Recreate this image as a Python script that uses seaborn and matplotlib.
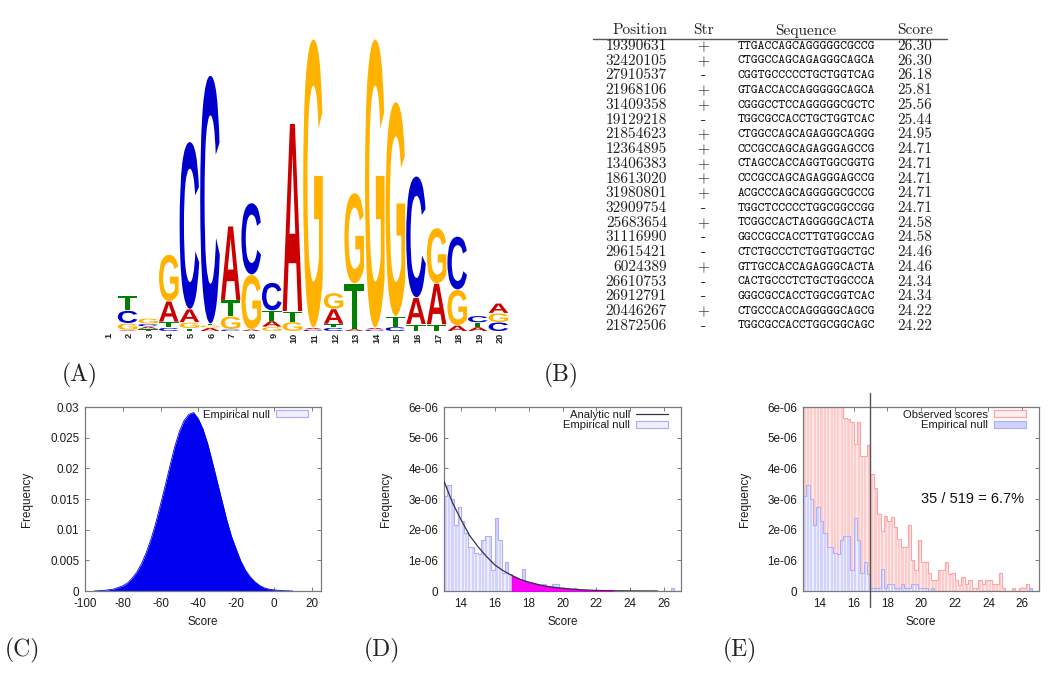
"""Sequence logo, top motif sites and score histograms, laid out as one figure."""

import matplotlib
matplotlib.use("Agg")
import matplotlib.pyplot as plt
from matplotlib.font_manager import FontProperties
from matplotlib.lines import Line2D
from matplotlib.patches import PathPatch, Patch
from matplotlib.text import TextPath
from matplotlib.transforms import Affine2D, ScaledTranslation
import numpy as np
import seaborn as sns

# panel A: letters bottom to top at each motif position, heights in bits
logo_letters = ["", "AGCT", "TACG", "CTAG", "TGAC", "AGTC", "CGTA", "AGC", "GATC", "GTA",
                "CAG", "CTAG", "ATG", "CAG", "CTG", "TAC", "TAG", "AGC", "ATC", "CGA"]
logo_heights = [
    [], [0.009, 0.046, 0.087, 0.103], [0.016, 0.016, 0.020, 0.037], [0.025, 0.039, 0.142, 0.320],
    [0.020, 0.041, 0.091, 1.146], [0.025, 0.016, 0.011, 1.700], [0.014, 0.089, 0.110, 0.507],
    [0.014, 0.374, 0.491], [0.030, 0.041, 0.071, 0.192], [0.064, 0.073, 1.285],
    [0.012, 0.013, 1.975], [0.025, 0.025, 0.103, 0.110], [0.016, 0.311, 0.621],
    [0.012, 0.013, 1.975], [0.030, 0.073, 1.468], [0.048, 0.183, 0.831],
    [0.046, 0.281, 0.381], [0.041, 0.244, 0.365], [0.030, 0.030, 0.046], [0.062, 0.062, 0.068],
]
logo_colors = {"A": "#cc0000", "C": "#0000cc", "G": "#ffb300", "T": "#008000"}

# panel B
table_positions = ["19390631", "32420105", "27910537", "21968106", "31409358", "19129218", "21854623",
                   "12364895", "13406383", "18613020", "31980801", "32909754", "25683654", "31116990",
                   "29615421", "6024389", "26610753", "26912791", "20446267", "21872506"]
table_strands = ["+", "+", "-", "+", "+", "-", "+", "+", "+", "+", "+", "-", "+", "-", "-", "+", "-", "-", "+", "-"]
table_sequences = ["TTGACCAGCAGGGGGCGCCG", "CTGGCCAGCAGAGGGCAGCA", "CGGTGCCCCCTGCTGGTCAG", "GTGACCACCAGGGGGCAGCA",
                   "CGGGCCTCCAGGGGGCGCTC", "TGGCGCCACCTGCTGGTCAC", "CTGGCCAGCAGAGGGCAGGG", "CCCGCCAGCAGAGGGAGCCG",
                   "CTAGCCACCAGGTGGCGGTG", "CCCGCCAGCAGAGGGAGCCG", "ACGCCCAGCAGGGGGCGCCG", "TGGCTCCCCCTGGCGGCCGG",
                   "TCGGCCACTAGGGGGCACTA", "GGCCGCCACCTTGTGGCCAG", "CTCTGCCCTCTGGTGGCTGC", "GTTGCCACCAGAGGGCACTA",
                   "CACTGCCCTCTGCTGGCCCA", "GGGCGCCACCTGGCGGTCAC", "CTGCCCACCAGGGGGCAGCG", "TGGCGCCACCTGGCGGCAGC"]
table_scores = ["26.30", "26.30", "26.18", "25.81", "25.56", "25.44", "24.95", "24.71", "24.71", "24.71",
                "24.71", "24.71", "24.58", "24.58", "24.46", "24.46", "24.34", "24.34", "24.22", "24.22"]

# panel C: whole empirical null
null_scores = [-95, -90, -85, -80, -77.5, -75, -72.5, -70, -67.5, -65, -62.5, -60, -57.5, -55, -52.5, -50,
               -47.5, -45, -42.5, -40, -37.5, -35, -32.5, -30, -27.5, -25, -22.5, -20, -17.5, -15, -12.5,
               -10, -7.5, -5, -2.5, 0, 5, 10]
null_freq = [0, 0.00009, 0.0003, 0.00084, 0.0013, 0.0021, 0.0031, 0.0045, 0.0063, 0.0085, 0.0111, 0.0141,
             0.0172, 0.0204, 0.0235, 0.0260, 0.0278, 0.0288, 0.0291, 0.0281, 0.0264, 0.0240, 0.0210, 0.0179,
             0.0148, 0.0117, 0.0090, 0.0069, 0.0049, 0.0034, 0.0023, 0.0015, 0.0009, 0.0005, 0.0003, 0.00018,
             0.00005, 0]

# panels D and E: tail of the score histograms, units of 1e-6, bins from 13 to 27
empirical_tail = [3.10, 3.45, 3.00, 2.15, 2.75, 2.27, 1.90, 1.42, 1.42, 1.25, 1.20, 1.65, 1.78, 1.78,
                  0.70, 2.38, 1.66, 0.60, 0.95, 0.55, 0.11, 0.11, 0.11, 0.72, 0.11, 0.22, 0.22, 0.11,
                  0.11, 0.22, 0.11, 0.11, 0.22, 0.22, 0.11, 0.11, 0.11, 0.00, 0.11, 0.00, 0.00, 0.00,
                  0.00, 0.00, 0.00, 0.00, 0.00, 0.00, 0.00, 0.00, 0.00, 0.00, 0.00, 0.00, 0.00, 0.00,
                  0.00, 0.00, 0.00, 0.00, 0.00, 0.00, 0.00, 0.00, 0.00, 0.00, 0.00, 0.11, 0.00, 0.00]
observed_tail = [7.50, 7.50, 7.50, 7.50, 7.50, 7.50, 7.50, 7.50, 7.50, 7.00, 6.80, 6.50, 5.65, 5.60,
                 5.50, 4.80, 5.50, 4.40, 4.40, 4.75, 3.83, 3.35, 2.50, 1.95, 2.45, 2.27, 2.40, 2.10,
                 1.70, 1.42, 1.42, 2.15, 1.00, 0.70, 1.65, 0.95, 0.95, 0.60, 0.35, 0.35, 0.70, 0.70,
                 0.95, 0.55, 0.60, 0.35, 0.20, 0.47, 0.22, 0.35, 0.11, 0.11, 0.35, 0.22, 0.35, 0.35,
                 0.22, 0.22, 0.58, 0.11, 0.00, 0.00, 0.11, 0.00, 0.11, 0.11, 0.22, 0.11, 0.00, 0.00]
analytic_scores = [13, 13.5, 14, 14.5, 15, 15.5, 16, 16.5, 17, 17.5, 18, 18.5, 19, 19.5, 20, 20.5, 21,
                   21.5, 22, 22.5, 23, 24, 25, 25.6]
analytic_freq = [3.58, 2.88, 2.33, 1.82, 1.45, 1.13, 0.85, 0.66, 0.51, 0.38, 0.29, 0.22, 0.16, 0.12, 0.09,
                 0.065, 0.045, 0.03, 0.02, 0.012, 0.008, 0.003, 0.001, 0.0005]
significance_cut = 17

tail_edges = list(np.linspace(13, 27, 71))
tail_centres = (np.array(tail_edges[:-1]) + np.array(tail_edges[1:])) / 2

BLUE_BASE, BLUE_FILL, BLUE_EDGE = "#eeeeff", "#d2d2ff", "#b0b0f6"
RED_BASE, RED_FILL, RED_EDGE = "#ffe8e8", "#ffcccc", "#ffa4a4"
FRAME = "#7a7a7a"
TEXT = "#1c1c1c"
W, H = 1050, 682


def px_axes(fig, left, top, right, bottom):
    return fig.add_axes([left / W, 1 - bottom / H, (right - left) / W, (bottom - top) / H])


def draw_logo(ax):
    font = FontProperties(family="Liberation Sans", weight="bold")
    for pos, (letters, heights) in enumerate(zip(logo_letters, logo_heights), start=1):
        bottom = 0
        for letter, height in zip(letters, heights):
            glyph = TextPath((0, 0), letter, size=1, prop=font)
            box = glyph.get_extents()
            drawn = max(height - 0.004, 0.003)
            place = (Affine2D().translate(-box.x0, -box.y0).scale(0.95 / box.width, drawn / box.height)
                     .translate(pos - 0.475, bottom))
            ax.add_patch(PathPatch(glyph, transform=place + ax.transData, color=logo_colors[letter], lw=0))
            bottom += height
    ax.set_xlim(0.5, 20.5)
    ax.set_ylim(0, 2)
    ax.set_xticks(range(1, 21))
    ax.set_xticklabels(range(1, 21), rotation=90, fontsize=6.6, fontweight="bold", color="#222222")
    ax.set_yticks([])
    ax.tick_params(axis="x", length=0, pad=1.5)
    nudge = ScaledTranslation(2 / 100, 0, ax.figure.dpi_scale_trans)
    for label in ax.get_xticklabels():
        label.set_transform(label.get_transform() + nudge)
    sns.despine(ax=ax, left=True, bottom=True)


def draw_table(ax):
    cm = {"family": "cmr10", "fontsize": 11.1, "color": "#222222"}
    for x, name in zip([640, 703, 806, 915], ["Position", "Str", "Sequence", "Score"]):
        ax.text(x, 34.5, name, ha="center", va="baseline", **cm)
    ax.plot([593, 947], [38.7, 38.7], color="#555555", lw=1)
    for i in range(len(table_positions)):
        y = 46.2 + 14.72 * i
        ax.text(667, y, table_positions[i], ha="right", va="center", **cm)
        ax.text(703, y, table_strands[i], ha="center", va="center", **cm)
        ax.text(806, y, table_sequences[i], ha="center", va="center", family="cmtt10", fontsize=9.4,
                color="#111111")
        ax.text(915, y, table_scores[i], ha="center", va="center", **cm)


def tail_bars(ax, values, base, fill):
    sns.histplot(x=tail_centres, weights=values, bins=tail_edges, element="bars",
                 color=base, alpha=1, linewidth=0, ax=ax)
    sns.histplot(x=tail_centres, weights=values, bins=tail_edges, element="bars", shrink=0.62,
                 color=fill, alpha=1, linewidth=0, ax=ax)


def tail_outline(ax, values, edge):
    sns.histplot(x=tail_centres, weights=values, bins=tail_edges, element="step", fill=False,
                 color=edge, linewidth=0.8, ax=ax)
    ax.vlines(tail_edges[0], 0, values[0], color=edge, lw=1.6)


def finish_axes(ax, xticks, yticks, ylabels):
    ax.set_xticks(xticks)
    ax.set_yticks(yticks)
    ax.set_yticklabels(ylabels)
    ax.tick_params(direction="in", length=3, width=0.7, color=FRAME, labelcolor=TEXT, labelsize=8.4,
                   top=True, right=True, bottom=True, left=True)
    ax.tick_params(axis="x", pad=5)
    ax.tick_params(axis="y", pad=4)
    for spine in ax.spines.values():
        spine.set_color(FRAME)
        spine.set_linewidth(0.9)
        spine.set_visible(True)
    ax.set_xlabel("Score", fontsize=8.4, color=TEXT)
    ax.set_ylabel("Frequency", fontsize=8.4, color=TEXT)
    ax.xaxis.set_label_coords(0.5, -0.135)
    ax.yaxis.set_label_coords(-0.22, 0.5)
    ax.grid(False)


def top_legend(ax, handles, labels):
    ax.legend(handles, labels, loc="upper right", bbox_to_anchor=(0.955, 1.0), frameon=False, markerfirst=False,
              fontsize=8.1, labelspacing=0.06, handlelength=2.8, handleheight=0.55, handletextpad=0.55,
              borderpad=0.25, borderaxespad=0, labelcolor=TEXT)


if __name__ == "__main__":
    sns.set_theme(style="white")
    plt.rcParams["font.family"] = ["Liberation Sans", "DejaVu Sans"]
    plt.rcParams["axes.unicode_minus"] = False
    fig = plt.figure(figsize=(W / 100, H / 100), dpi=100)

    draw_logo(px_axes(fig, 96.7, 39, 508.7, 331))

    # panel C
    ax_c = px_axes(fig, 85, 407, 321, 591)
    sns.lineplot(x=null_scores, y=null_freq, color="#0000f0", lw=0.6, ax=ax_c)
    ax_c.fill_between(null_scores, null_freq, color="#0000f0", lw=0)
    ax_c.set_xlim(-100, 25)
    ax_c.set_ylim(0, 0.03)
    finish_axes(ax_c, range(-100, 21, 20), [0, 0.005, 0.01, 0.015, 0.02, 0.025, 0.03],
                ["0", "0.005", "0.01", "0.015", "0.02", "0.025", "0.03"])
    top_legend(ax_c, [Patch(facecolor="#f0f0ff", edgecolor=BLUE_EDGE, lw=0.9)], ["Empirical null"])

    # panel D
    tail_ticks = list(range(14, 27, 2))
    tail_yticks = [0, 1, 2, 3, 4, 5, 6]
    tail_ylabels = ["0", "1e-06", "2e-06", "3e-06", "4e-06", "5e-06", "6e-06"]
    ax_d = px_axes(fig, 444, 407, 681, 591)
    tail_bars(ax_d, empirical_tail, BLUE_BASE, BLUE_FILL)
    curve_x = np.array(analytic_scores)
    curve_y = np.array(analytic_freq)
    ax_d.fill_between(curve_x, curve_y, where=(curve_x >= significance_cut) & (curve_x <= 23),
                      facecolor="#ff00ff", edgecolor="#e000e0", lw=0.8, zorder=3)
    tail_outline(ax_d, empirical_tail, BLUE_EDGE)
    sns.lineplot(x=analytic_scores, y=analytic_freq, color="#333344", lw=0.9, zorder=5, ax=ax_d)
    ax_d.set_xlim(13, 27)
    ax_d.set_ylim(0, 6)
    finish_axes(ax_d, tail_ticks, tail_yticks, tail_ylabels)
    top_legend(ax_d, [Line2D([], [], color="#333344", lw=0.9),
                      Patch(facecolor="#f0f0ff", edgecolor=BLUE_EDGE, lw=0.9)],
               ["Analytic null", "Empirical null"])

    # panel E
    ax_e = px_axes(fig, 803, 407, 1039, 591)
    tail_bars(ax_e, observed_tail, RED_BASE, RED_FILL)
    tail_outline(ax_e, observed_tail, RED_EDGE)
    tail_bars(ax_e, empirical_tail, BLUE_BASE, BLUE_FILL)
    tail_outline(ax_e, empirical_tail, BLUE_EDGE)
    ax_e.axvline(significance_cut, ymin=-0.087, ymax=1.076, color="#555555", lw=1, clip_on=False, zorder=6)
    ax_e.set_xlim(13, 27)
    ax_e.set_ylim(0, 6)
    finish_axes(ax_e, tail_ticks, tail_yticks, tail_ylabels)
    ax_e.text(23.05, 3, "35 / 519 = 6.7%", ha="center", va="center", fontsize=10.5, color="#111111")
    top_legend(ax_e, [Patch(facecolor="#fff0f0", edgecolor=RED_EDGE, lw=0.9),
                      Patch(facecolor=BLUE_FILL, edgecolor=BLUE_EDGE, lw=0.9)],
               ["Observed scores", "Empirical null"])

    # page-level text in pixel coordinates
    page = fig.add_axes([0, 0, 1, 1], facecolor="none")
    page.set_xlim(0, W)
    page.set_ylim(H, 0)
    page.axis("off")
    draw_table(page)
    for name, x, y in [("(A)", 80, 375), ("(B)", 561, 375), ("(C)", 22, 650), ("(D)", 382, 650), ("(E)", 740, 650)]:
        page.text(x, y, name, ha="center", va="center", family="cmr10", fontsize=17, color="#222222")

    fig.savefig("out.png", dpi=100)
    plt.close(fig)
